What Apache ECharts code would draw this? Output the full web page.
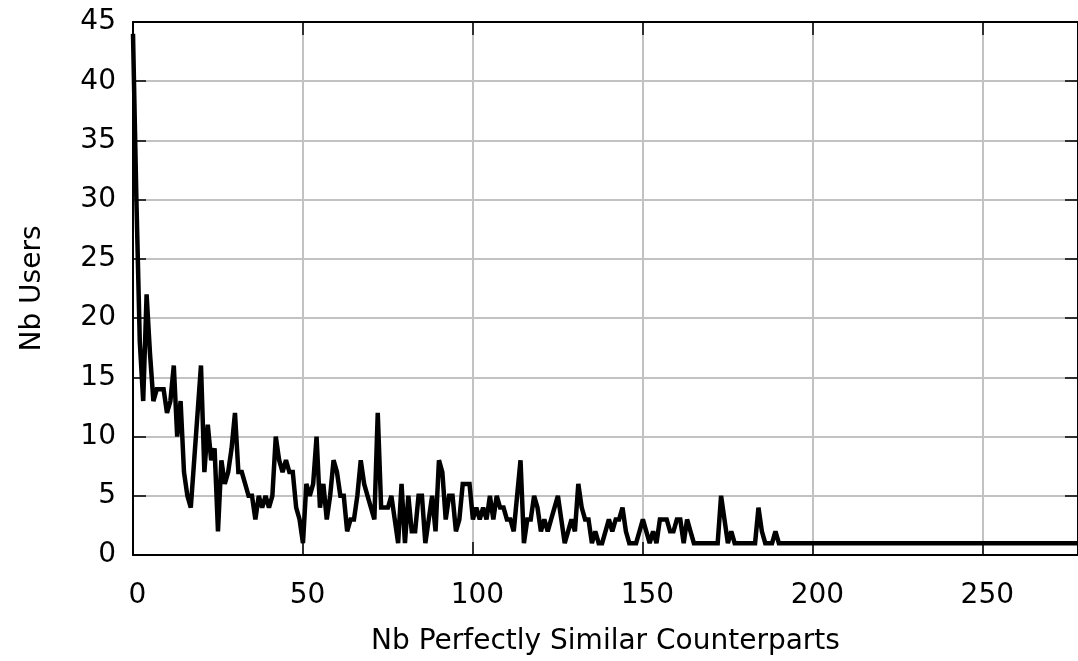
<!DOCTYPE html>
<html>
<head>
<meta charset="utf-8">
<title>Nb Users vs Nb Perfectly Similar Counterparts</title>
<script src="https://cdn.jsdelivr.net/npm/echarts@6/dist/echarts.min.js"></script>
<style>
  html, body { margin: 0; padding: 0; background: #ffffff; }
  #chart { width: 1078px; height: 661px; }
</style>
</head>
<body>
<div id="chart"></div>
<script>
// Number of users for each count of perfectly similar counterparts (x = 0, 1, 2, ...)
const nbUsers = [
  44, 30, 18, 13, 22, 17, 13, 14, 14, 14,
  12, 13, 16, 10, 13, 7, 5, 4, 8, 12,
  16, 7, 11, 8, 9, 2, 8, 6, 7, 9,
  12, 7, 7, 6, 5, 5, 3, 5, 4, 5,
  4, 5, 10, 8, 7, 8, 7, 7, 4, 3,
  1, 6, 5, 6, 10, 4, 6, 3, 5, 8,
  7, 5, 5, 2, 3, 3, 5, 8, 6, 5,
  4, 3, 12, 4, 4, 4, 5, 3, 1, 6,
  1, 5, 2, 2, 5, 5, 1, 3, 5, 2,
  8, 7, 3, 5, 5, 2, 3, 6, 6, 6,
  3, 4, 3, 4, 3, 5, 3, 5, 4, 4,
  3, 3, 2, 5, 8, 1, 3, 3, 5, 4,
  2, 3, 2, 3, 4, 5, 3, 1, 2, 3,
  2, 6, 4, 3, 3, 1, 2, 1, 1, 2,
  3, 2, 3, 3, 4, 2, 1, 1, 1, 2,
  3, 2, 1, 2, 1, 3, 3, 3, 2, 2,
  3, 3, 1, 3, 2, 1, 1, 1, 1, 1,
  1, 1, 1, 5, 3, 1, 2, 1, 1, 1,
  1, 1, 1, 1, 4, 2, 1, 1, 1, 2,
  1, 1, 1, 1, 1, 1, 1, 1, 1, 1,
  1, 1, 1, 1, 1, 1, 1, 1, 1, 1,
  1, 1, 1, 1, 1, 1, 1, 1, 1, 1,
  1, 1, 1, 1, 1, 1, 1, 1, 1, 1,
  1, 1, 1, 1, 1, 1, 1, 1, 1, 1,
  1, 1, 1, 1, 1, 1, 1, 1, 1, 1,
  1, 1, 1, 1, 1, 1, 1, 1, 1, 1,
  1, 1, 1, 1, 1, 1, 1, 1, 1, 1,
  1, 1, 1, 1, 1, 1, 1, 1, 1
];

// Axis ranges and tick steps
const xRange = [0, 278];
const xStep = 50;
const yRange = [0, 45];
const yStep = 5;

const xTitle = 'Nb Perfectly Similar Counterparts';
const yTitle = 'Nb Users';

const FONT = 'DejaVu Sans';
const points = nbUsers.map((v, i) => [i, v]);

const tickStyle = { show: true, inside: true, length: 13, lineStyle: { color: '#000', width: 1.5 } };
const frameLine = { show: true, onZero: false, lineStyle: { color: '#000', width: 2 } };
const gridLine = { show: true, lineStyle: { color: '#c2c2c2', width: 2, type: 'solid' } };

const chart = echarts.init(document.getElementById('chart'), null, { renderer: 'canvas' });
chart.setOption({
  animation: false,
  backgroundColor: '#ffffff',
  grid: { left: 133, top: 22, width: 947.4, height: 534.7, containLabel: false },
  xAxis: [
    {
      type: 'value', position: 'bottom', min: xRange[0], max: xRange[1], interval: xStep,
      name: xTitle, nameLocation: 'middle', nameGap: 73,
      nameTextStyle: { fontFamily: FONT, fontSize: 28, color: '#000' },
      axisLine: frameLine, axisTick: tickStyle, splitLine: gridLine,
      axisLabel: {
        fontFamily: FONT, fontSize: 28, color: '#000', margin: 27, padding: [0, 0, 0, 9],
        showMaxLabel: false,
        formatter: v => (v % xStep === 0 ? String(v) : '')
      }
    },
    {
      type: 'value', position: 'top', min: xRange[0], max: xRange[1], interval: xStep,
      axisLine: frameLine, axisTick: tickStyle, splitLine: { show: false },
      axisLabel: { show: false }
    }
  ],
  yAxis: [
    {
      type: 'value', position: 'left', min: yRange[0], max: yRange[1], interval: yStep,
      name: yTitle, nameLocation: 'middle', nameGap: 86, nameRotate: 90,
      nameTextStyle: { fontFamily: FONT, fontSize: 28, color: '#000' },
      axisLine: frameLine, axisTick: tickStyle, splitLine: gridLine,
      axisLabel: { fontFamily: FONT, fontSize: 28, color: '#000', margin: 17 }
    },
    {
      type: 'value', position: 'right', min: yRange[0], max: yRange[1], interval: yStep,
      axisLine: frameLine, axisTick: tickStyle, splitLine: { show: false },
      axisLabel: { show: false }
    }
  ],
  series: [
    {
      type: 'line',
      xAxisIndex: 0, yAxisIndex: 0,
      data: points,
      showSymbol: false,
      symbol: 'none',
      lineStyle: { color: '#000', width: 4.5, join: 'miter', miterLimit: 3 },
      z: 5
    }
  ]
});
</script>
</body>
</html>
